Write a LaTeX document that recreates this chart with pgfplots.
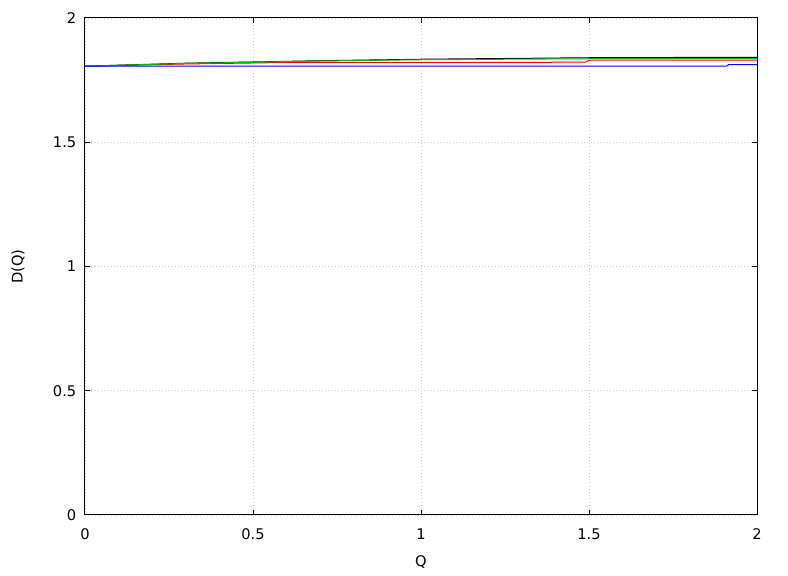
\documentclass[border=0pt]{standalone}
\usepackage{fontspec}
\setmainfont{DejaVu Sans}
\usepackage{pgfplots}
\pgfplotsset{compat=1.18}
\begin{document}
\begin{tikzpicture}
\begin{axis}[
  scale only axis,
  width=504pt, height=372.75pt,
  xmin=0, xmax=2, ymin=0, ymax=2,
  xtick={0,0.5,1,1.5,2}, ytick={0,0.5,1,1.5,2},
  tick align=inside, tick pos=both,
  major tick length=4pt,
  grid=major,
  grid style={dotted, gray!40, line width=0.6pt},
  axis line style={line width=0.75pt},
  tick style={line width=0.75pt, black},
  font=\fontsize{11}{13}\selectfont,
  /pgf/number format/assume math mode=true,
  xticklabel style={yshift=-7pt},
  yticklabel style={xshift=-3pt},
  xlabel={Q}, ylabel={D(Q)},
  xlabel style={at={(axis description cs:0.5,-0.0946)}, anchor=center},
  ylabel style={at={(axis description cs:-0.0997,0.5)}, anchor=center},
]
\coordinate (sw) at (rel axis cs:0,0);
\coordinate (ne) at (rel axis cs:1,1);
\addplot[black, line width=0.75pt] coordinates {(0,1.806) (0.3,1.818) (0.7,1.828) (1.0,1.834) (1.5,1.840) (2,1.842)};
\addplot[red, line width=0.75pt] coordinates {(0,1.806) (0.3,1.815) (0.6,1.821) (1.49,1.822) (1.5,1.830) (2,1.830)};
\addplot[color={rgb,255:red,0;green,190;blue,0}, line width=0.75pt] coordinates {(0,1.806) (0.3,1.817) (0.7,1.827) (1.0,1.832) (1.5,1.836) (2,1.837)};
\addplot[blue, line width=0.75pt] coordinates {(0,1.806) (1.91,1.806) (1.915,1.812) (2,1.812)};
\end{axis}
\pgfresetboundingbox
\path ([shift={(-63.75pt,-45.75pt)}]sw) rectangle ([shift={(23.25pt,13.5pt)}]ne);
\end{tikzpicture}
\end{document}
